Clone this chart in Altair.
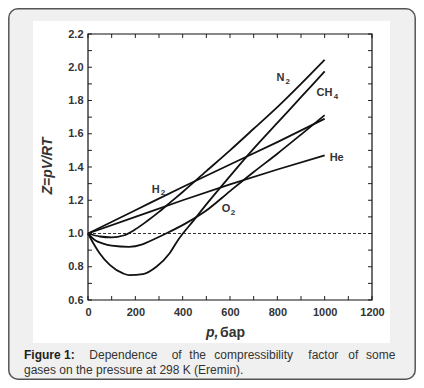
import altair as alt
import pandas as pd

# ---- data ----
gases = ["N2", "CH4", "O2", "H2", "He"]

n2_p = [0, 50, 100, 150, 200, 250, 300, 350, 400, 500, 600, 700, 800, 900, 1000]
n2_z = [1.0, 0.982, 0.977, 0.988, 1.025, 1.075, 1.13, 1.19, 1.25, 1.375, 1.50, 1.63, 1.76, 1.90, 2.045]

ch4_p = [0, 25, 49, 92, 148, 175, 232, 289, 345, 380, 450, 500, 600, 700, 800, 900, 1000]
ch4_z = [1.0, 0.935, 0.881, 0.811, 0.760, 0.750, 0.756, 0.80, 0.881, 0.96, 1.085, 1.175, 1.345, 1.51, 1.665, 1.82, 1.975]

o2_p = [0, 30, 61, 100, 173, 230, 272, 330, 413, 497, 600, 700, 800, 900, 1000]
o2_z = [1.0, 0.96, 0.941, 0.927, 0.92, 0.935, 0.961, 1.0, 1.061, 1.135, 1.255, 1.37, 1.48, 1.595, 1.712]

h2_p = [0, 200, 400, 600, 800, 1000]
h2_z = [1.0, 1.14, 1.28, 1.415, 1.55, 1.69]

he_p = [0, 200, 400, 600, 800, 1000]
he_z = [1.0, 1.10, 1.20, 1.295, 1.385, 1.47]

label_base = ["N", "CH", "He", "H", "O"]
label_base_p = [797, 966, 1021, 269, 565]
label_z = [1.934, 1.843, 1.452, 1.262, 1.146]
label_sub = ["2", "4", "2", "2"]
label_sub_p = [835, 1038, 307, 603]
label_sub_z = [1.914, 1.823, 1.242, 1.126]

x_labels = [0, 200, 400, 600, 800, 1000, 1200]
y_labels = [0.6, 0.8, 1.0, 1.2, 1.4, 1.6, 1.8, 2.0, 2.2]
x_ticks = list(range(0, 1201, 100))
y_ticks = [round(0.6 + 0.1 * i, 1) for i in range(17)]

caption_line1_words = ["Dependence", "of", "the", "compressibility", "factor", "of", "some"]
caption_line1_bold = "Figure 1:"
caption_line2 = "gases on the pressure at 298 K (Eremin)."

# ---- layout (pixels, relative to plot area) ----
W, H = 284, 266
word_x = [1.3, 83.7, 101.3, 126.3, 220.3, 260.3, 278]
FONT = "Liberation Sans"

series = {"N2": (n2_p, n2_z), "CH4": (ch4_p, ch4_z), "O2": (o2_p, o2_z),
          "H2": (h2_p, h2_z), "He": (he_p, he_z)}
rows = []
for g in gases:
    ps, zs = series[g]
    for p, z in zip(ps, zs):
        rows.append({"gas": g, "p": p, "Z": z})
df = pd.DataFrame(rows)

xscale = alt.Scale(domain=[0, 1200], nice=False, zero=False)
yscale = alt.Scale(domain=[0.6, 2.2], nice=False, zero=False)
xaxis = alt.Axis(values=x_labels, ticks=False, domain=False, grid=False, title=None, format="d",
                 labelFont=FONT, labelFontSize=11, labelFontWeight="bold", labelColor="#333",
                 labelPadding=6, labelFlush=False, zindex=1)
yaxis = alt.Axis(values=y_labels, ticks=False, domain=False, grid=False, title=None, format=".1f",
                 labelFont=FONT, labelFontSize=11, labelFontWeight="bold", labelColor="#333",
                 labelPadding=5, zindex=1)

one = pd.DataFrame({"a": [0]})

card = alt.Chart(one).mark_rect(fill="#f0f0f0", stroke="#555", strokeWidth=1.5, cornerRadius=9).encode(
    x=alt.value(-79.2), x2=alt.value(327.2), y=alt.value(-25.2), y2=alt.value(345.2))
white = alt.Chart(one).mark_rect(fill="white").encode(
    x=alt.value(-55), x2=alt.value(302), y=alt.value(-13), y2=alt.value(309))
frame = alt.Chart(one).mark_rect(fill=None, stroke="#111", strokeWidth=1.2).encode(
    x=alt.value(0), x2=alt.value(W), y=alt.value(0), y2=alt.value(H))

dfx = pd.DataFrame({"v": x_ticks})
dfy = pd.DataFrame({"v": y_ticks})
tb = alt.Chart(dfx).mark_rule(color="#222", strokeWidth=1).encode(
    x=alt.X("v:Q", scale=xscale, axis=xaxis), y=alt.value(H), y2=alt.value(H - 4))
tt = alt.Chart(dfx).mark_rule(color="#222", strokeWidth=1).encode(
    x=alt.X("v:Q", scale=xscale, axis=xaxis), y=alt.value(0), y2=alt.value(4))
tl = alt.Chart(dfy).mark_rule(color="#222", strokeWidth=1).encode(
    y=alt.Y("v:Q", scale=yscale, axis=yaxis), x=alt.value(0), x2=alt.value(4))
tr = alt.Chart(dfy).mark_rule(color="#222", strokeWidth=1).encode(
    y=alt.Y("v:Q", scale=yscale, axis=yaxis), x=alt.value(W), x2=alt.value(W - 4))

dash = alt.Chart(pd.DataFrame({"x": [0], "x2": [1200], "y": [1.0]})).mark_rule(
    color="#333", strokeWidth=1, strokeDash=[3, 2]).encode(
    x=alt.X("x:Q", scale=xscale, axis=xaxis), x2="x2:Q", y=alt.Y("y:Q", scale=yscale, axis=yaxis))

lines = alt.Chart(df).mark_line(color="#111", strokeWidth=1.8, interpolate="monotone").encode(
    x=alt.X("p:Q", scale=xscale, axis=xaxis),
    y=alt.Y("Z:Q", scale=yscale, axis=yaxis),
    detail="gas:N")

labels = alt.Chart(pd.DataFrame({"t": label_base, "p": label_base_p, "Z": label_z})).mark_text(
    font=FONT, fontSize=11, fontWeight="bold", color="#333", align="left", baseline="middle").encode(
    x=alt.X("p:Q", scale=xscale, axis=xaxis), y=alt.Y("Z:Q", scale=yscale, axis=yaxis), text="t:N")
subs = alt.Chart(pd.DataFrame({"t": label_sub, "p": label_sub_p, "Z": label_sub_z})).mark_text(
    font=FONT, fontSize=8, fontWeight="bold", color="#333", align="left", baseline="middle").encode(
    x=alt.X("p:Q", scale=xscale, axis=xaxis), y=alt.Y("Z:Q", scale=yscale, axis=yaxis), text="t:N")

ytitle = alt.Chart(one).mark_text(text="Z=pV/RT", font=FONT, fontSize=14, fontWeight="bold",
                                  fontStyle="italic", angle=270, color="#333",
                                  align="center", baseline="middle").encode(
    x=alt.value(-40), y=alt.value(132))
xtitle_p = alt.Chart(one).mark_text(text="p,", font=FONT, fontSize=14, fontWeight="bold",
                                    fontStyle="italic", color="#333", align="left", baseline="middle").encode(
    x=alt.value(118), y=alt.value(299))
xtitle_u = alt.Chart(one).mark_text(text="бар", font=FONT, fontSize=14, fontWeight="bold",
                                    color="#333", align="left", baseline="middle").encode(
    x=alt.value(132), y=alt.value(299))

cap_bold = alt.Chart(one).mark_text(text=caption_line1_bold, font=FONT, fontSize=12, fontWeight="bold",
                                    color="#222", align="left", baseline="middle").encode(
    x=alt.value(-64), y=alt.value(321))
cap_words = alt.Chart(pd.DataFrame({"w": caption_line1_words, "px": word_x})).mark_text(
    font=FONT, fontSize=12, color="#333", align="left", baseline="middle").encode(
    x=alt.X("px:Q", scale=None), y=alt.value(321), text="w:N")
cap2 = alt.Chart(one).mark_text(text=caption_line2, font=FONT, fontSize=12, color="#333",
                                align="left", baseline="middle").encode(
    x=alt.value(-64), y=alt.value(336))

chart = alt.layer(card, white, dash, lines, labels, subs, tb, tt, tl, tr, frame,
                  ytitle, xtitle_p, xtitle_u, cap_bold, cap_words, cap2).properties(
    width=W, height=H,
    padding={"left": 80, "top": 26, "right": 44, "bottom": 80},
    autosize=alt.AutoSizeParams(type="none"),
    background="white",
).configure_view(stroke=None)

chart.save("out.html", embed_options={"renderer": "svg", "actions": False})
